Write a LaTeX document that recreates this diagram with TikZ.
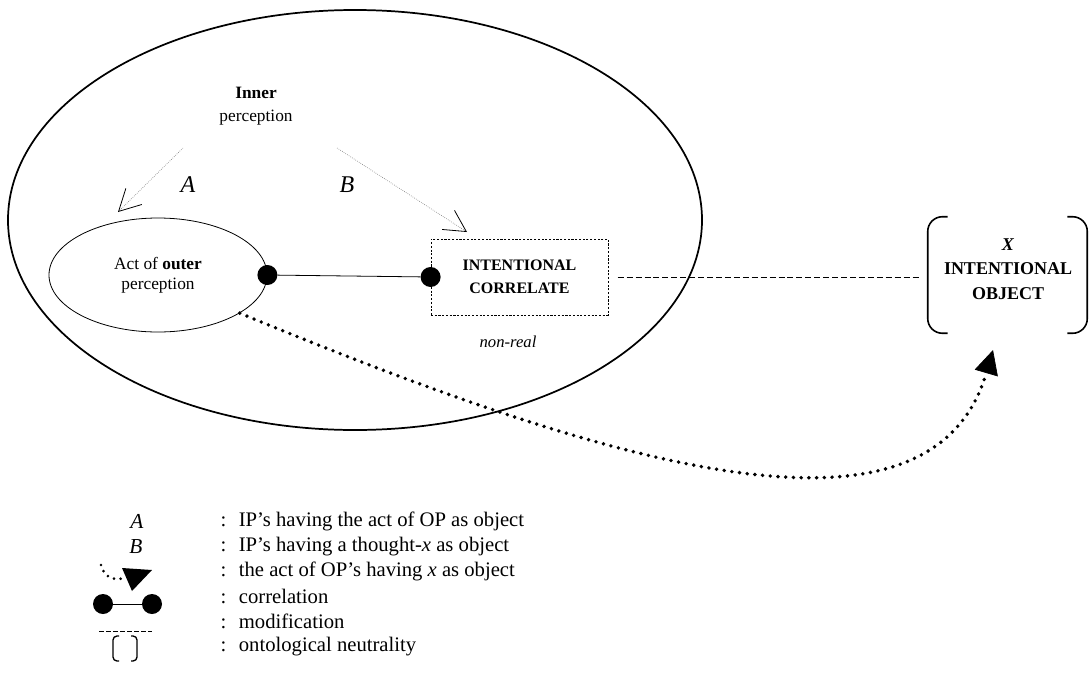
\documentclass[tikz,border=0pt]{standalone}
\usepackage{fontspec}
\setmainfont{Liberation Serif}
\usetikzlibrary{arrows.meta,shapes.geometric,positioning}

\begin{document}
\begin{tikzpicture}[x=0.75pt,y=-0.75pt,
    mind/.style={draw,ellipse,line width=1.3pt,minimum width=520.5pt,minimum height=315pt},
    act/.style={draw,ellipse,line width=0.6pt,minimum width=163.5pt,minimum height=85.5pt,inner sep=0pt,
      align=center,font=\fontsize{13}{15}\selectfont},
    corrbox/.style={draw,line width=0.6pt,dash pattern=on 1.6pt off 1.2pt,minimum width=132.75pt,minimum height=57pt,
      align=center,font=\fontsize{12}{17}\selectfont\bfseries},
    objbox/.style={minimum width=119.25pt,minimum height=87pt,inner sep=0pt},
    dot/.style={circle,fill,inner sep=0pt,minimum size=15pt},
    label/.style={font=\fontsize{18}{18}\selectfont\itshape},
    looks/.style={densely dotted,gray,line width=0.5pt,
      -{Straight Barb[length=16pt,width=17pt,color=black,line width=0.6pt]}},
    bigdots/.style={line width=2.9pt,line cap=round,dash pattern=on 0pt off 5.8pt},
    modif/.style={line width=0.6pt,dash pattern=on 4.5pt off 2.2pt},
    bracket/.style={line width=1.2pt,rounded corners=11pt},
    keytext/.style={anchor=west,font=\fontsize{15.5}{15.5}\selectfont}]

  % the mind
  \node[mind] (mind) at (355,220) {};
  \node[align=center,font=\fontsize{13}{17}\selectfont] (inner) at (256,106) {\textbf{Inner}\\perception};
  \node[act] (outer) at (158,275) {Act of \textbf{outer}\\perception};
  \node[corrbox] (corr) at (519.5,277) {INTENTIONAL\\CORRELATE};
  \node[font=\fontsize{12.5}{12.5}\selectfont\itshape] (nonreal) at (508,342) {non-real};
  \node[label] (A) at (188,185) {A};
  \node[label] (B) at (347,185) {B};

  \node[dot] (d1) at (outer.east) {};
  \node[dot] (d2) at (corr.west) {};
  \draw[line width=0.6pt] (d1) -- (d2);

  \coordinate (a1) at (183,148);
  \coordinate (a2) at (118,212);
  \coordinate (b1) at (337,148);
  \coordinate (b2) at (467,232);
  \draw[looks] (a1) -- (a2);
  \draw[looks] (b1) -- (b2);

  % the object
  \node[objbox] (obj) at (1007.5,275) {};
  \node[align=center,font=\fontsize{13.5}{18.5}\selectfont\bfseries] (objtext) at (1008,269)
    {\textit{X}\\INTENTIONAL\\OBJECT};
  \draw[bracket] ([xshift=15pt]obj.north west) -- (obj.north west) -- (obj.south west) -- ([xshift=15pt]obj.south west);
  \draw[bracket] ([xshift=-15pt]obj.north east) -- (obj.north east) -- (obj.south east) -- ([xshift=-15pt]obj.south east);
  \draw[modif,shorten <=7pt,shorten >=6pt] (corr.east) -- (obj.west |- corr.east);

  \coordinate (tip) at (993,350);
  \draw[bigdots,-{Triangle[length=18pt,width=18pt,line width=0.5pt]}]
    (outer.-25) .. controls (600,462) and (930,565) .. (tip);

  % key
  \node[font=\fontsize{16}{16}\selectfont\itshape] (keyA) at (137,521) {A};
  \node[font=\fontsize{16}{16}\selectfont\itshape] (keyB) at (136,547) {B};
  \draw[line width=2.2pt,line cap=round,dash pattern=on 0pt off 5pt] (101,565) .. controls (104,577) and (113,581) .. (124,578);
  \fill (122,568) -- (152,570) -- (132,591) -- cycle;
  \node[dot] (k1) at (103,604) {};
  \node[dot] (k2) at (152,604) {};
  \draw[line width=0.6pt] (k1) -- (k2);
  \draw[line width=0.6pt,dash pattern=on 3.5pt off 1.8pt] (99,631) -- (152,631);
  \draw[line width=1pt,rounded corners=3pt] (119,636) -- (113,636) -- (113,661) -- (119,661);
  \draw[line width=1pt,rounded corners=3pt] (131,636) -- (137,636) -- (137,661) -- (131,661);

  \foreach \i/\t in {1/{IP’s having the act of OP as object},
                     2/{IP’s having a thought-\textit{x} as object},
                     3/{the act of OP’s having \textit{x} as object},
                     4/{correlation},
                     5/{modification},
                     6/{ontological neutrality}}
    \node[keytext] (txt\i) at (216,{495.8+25.2*\i}) {:\hspace{0.6em}\t};

  \useasboundingbox (0,0) rectangle (1091,678);
\end{tikzpicture}
\end{document}
